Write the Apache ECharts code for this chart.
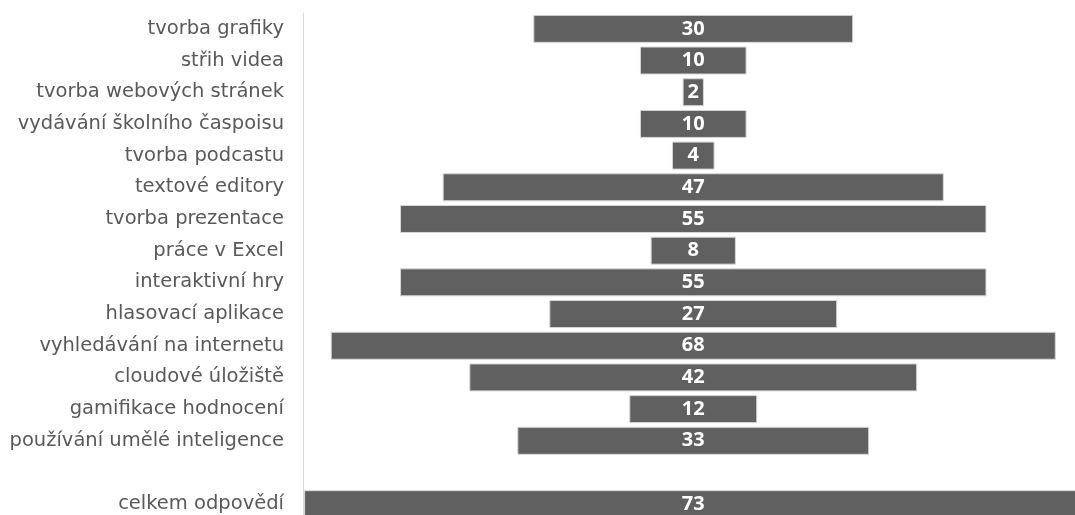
<!DOCTYPE html>
<html lang="cs">
<head>
    <meta charset="UTF-8">
    <title>Využívání digitálních nástrojů</title>
    <script src="https://cdn.jsdelivr.net/npm/echarts@6/dist/echarts.min.js"></script>
    <style>
        html, body, #chart {
            width: 1075px;
            height: 515px;
            padding: 0;
            margin: 0;
            background: #fff;
            overflow: hidden;
        }
    </style>
</head>
<body>
<div id="chart"></div>
<script>
    var categories = [
        "tvorba grafiky", "střih videa", "tvorba webových stránek", "vydávání školního časpoisu",
        "tvorba podcastu", "textové editory", "tvorba prezentace", "práce v Excel",
        "interaktivní hry", "hlasovací aplikace", "vyhledávání na internetu", "cloudové úložiště",
        "gamifikace hodnocení", "používání umělé inteligence", "", "celkem odpovědí"
    ];
    var values = [30, 10, 2, 10, 4, 47, 55, 8, 55, 27, 68, 42, 12, 33, null, 73];

    // bars are centred on one point, so an invisible offset is stacked first
    var centre = 36.6;
    var offsets = values.map(function (v) { return v == null ? "-" : centre - v / 2; });
    var shown = values.map(function (v) { return v == null ? "-" : v; });

    var myChart = echarts.init(document.getElementById("chart"));
    myChart.setOption({
        animation: false,
        grid: {left: 303, right: 0, top: 13, height: 507, containLabel: false, outerBoundsMode: "none"},
        xAxis: {
            type: "value", min: 0, max: 72.4, show: false
        },
        yAxis: {
            type: "category",
            data: categories,
            inverse: true,
            axisLine: {show: true, lineStyle: {color: "#d9d9d9", width: 1}},
            axisTick: {show: false},
            axisLabel: {
                margin: 19,
                color: "#595959",
                fontFamily: "DejaVu Sans",
                fontSize: 19.5
            }
        },
        series: [{
            type: "bar",
            stack: "f",
            data: offsets,
            barWidth: 28,
            itemStyle: {color: "transparent"},
            silent: true
        }, {
            type: "bar",
            stack: "f",
            data: shown,
            barWidth: 28,
            clip: false,
            itemStyle: {color: "#606060", borderColor: "#d8d8d8", borderWidth: 1},
            label: {
                show: true,
                position: "inside",
                color: "#fff",
                fontFamily: "Noto Sans",
                fontWeight: "bold",
                fontSize: 20
            }
        }]
    });
</script>
</body>
</html>
